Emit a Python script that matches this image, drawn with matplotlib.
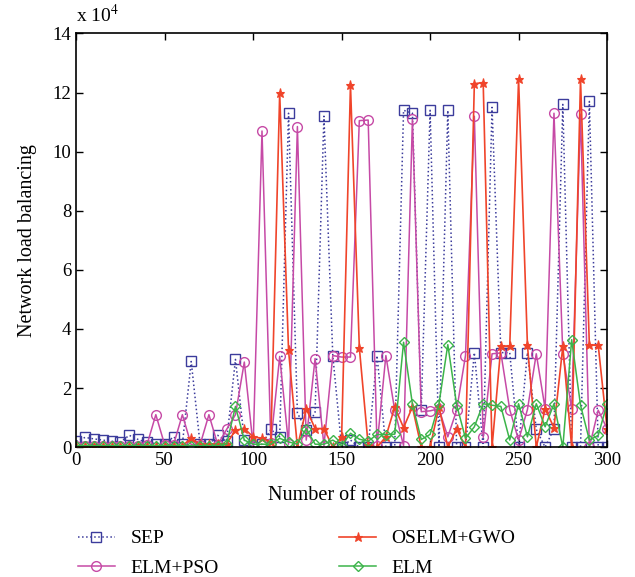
import numpy as np
import matplotlib
matplotlib.use("Agg")
from matplotlib import pyplot as plt

plt.rcParams['font.family'] = ['Liberation Serif', 'DejaVu Serif']
plt.rcParams['mathtext.fontset'] = 'stix'

# rounds sampled every 5, values in units of 10^4
rounds = np.arange(0, 301, 5)

sep = [0.2, 0.33, 0.28, 0.24, 0.2, 0.18, 0.4, 0.26, 0.16, 0.12,
       0.1, 0.35, 0.1, 2.9, 0.1, 0.1, 0.4, 0.2, 2.97, 0.24,
       0.0, 0.1, 0.6, 0.35, 11.3, 1.16, 0.57, 1.19, 11.2, 3.1,
       0.0, 0.24, 0.0, 0.0, 3.1, 0.0, 0.0, 11.4, 11.3, 1.27,
       11.4, 0.0, 11.4, 0.0, 0.0, 3.2, 0.0, 11.5, 3.2, 3.2,
       0.0, 3.2, 0.6, 0.0, 0.63, 11.6, 0.0, 0.0, 11.7, 0.0, 0.0]

elm_pso = [0.05, 0.05, 0.05, 0.05, 0.05, 0.05, 0.05, 0.05, 0.08, 1.1,
           0.08, 0.08, 1.1, 0.08, 0.08, 1.1, 0.08, 0.6, 1.1, 2.88,
           0.05, 10.7, 0.15, 3.07, 0.1, 10.85, 0.24, 3.0, 0.05, 3.1,
           3.05, 3.05, 11.05, 11.07, 0.05, 3.1, 1.25, 0.05, 11.1, 1.2,
           1.23, 1.3, 0.35, 1.25, 3.1, 11.2, 0.33, 3.16, 3.19, 1.27,
           0.24, 1.27, 3.16, 1.3, 11.3, 3.16, 1.3, 11.27, 0.0, 1.25, 0.63]

oselm_gwo = [0.05, 0.05, 0.05, 0.05, 0.05, 0.05, 0.05, 0.05, 0.05, 0.05,
             0.05, 0.05, 0.05, 0.3, 0.1, 0.1, 0.1, 0.12, 0.57, 0.63,
             0.35, 0.3, 0.18, 11.98, 3.28, 0.0, 1.3, 0.63, 0.63, 0.0,
             0.35, 12.26, 3.37, 0.07, 0.0, 0.35, 1.36, 0.66, 1.36, 0.0,
             0.0, 1.36, 0.0, 0.63, 0.0, 12.3, 12.34, 0.0, 3.41, 3.41,
             12.45, 3.45, 0.0, 1.3, 0.66, 3.41, 0.0, 12.45, 3.45, 3.45, 0.63]

elm = [0.05, 0.05, 0.05, 0.05, 0.05, 0.05, 0.05, 0.05, 0.05, 0.05,
       0.05, 0.05, 0.05, 0.05, 0.05, 0.05, 0.05, 0.1, 1.38, 0.24,
       0.1, 0.1, 0.1, 0.3, 0.18, 0.1, 0.63, 0.1, 0.1, 0.24,
       0.05, 0.47, 0.27, 0.2, 0.43, 0.42, 0.44, 3.55, 1.46, 0.26,
       0.43, 1.47, 3.47, 1.43, 0.3, 0.69, 1.47, 1.42, 1.38, 0.24,
       1.47, 0.35, 1.47, 0.69, 1.47, 0.0, 3.64, 1.42, 0.24, 0.4, 1.47]

fig = plt.figure(figsize=(6.35, 5.77), dpi=100)
ax = fig.add_axes([0.12, 0.225, 0.836, 0.717])

ax.plot(rounds, sep, linestyle=':', color='#3c3c9c', lw=1.1, marker='s',
        ms=6.5, mfc='none', mew=1.0, label='SEP')
ax.plot(rounds, elm_pso, '-', color='#c64aa6', lw=1.1, marker='o',
        ms=7, mfc='none', mew=1.0, label='ELM+PSO')
ax.plot(rounds, oselm_gwo, '-', color='#f0442a', lw=1.2, marker='*',
        ms=6.5, mew=0.8, label='OSELM+GWO')
ax.plot(rounds, elm, '-', color='#3cb44a', lw=1.1, marker='D',
        ms=5.5, mfc='none', mew=1.0, label='ELM')

ax.set_xlim(0, 300)
ax.set_ylim(0, 14)
ax.set_xticks(np.arange(0, 301, 50))
ax.set_yticks(np.arange(0, 15, 2))
ax.tick_params(direction='in', top=True, right=True, length=5,
               labelsize=13.5, width=1)
for s in ax.spines.values():
    s.set_linewidth(1.2)

ax.set_xlabel('Number of rounds', fontsize=14.5, labelpad=12)
ax.set_ylabel('Network load balancing', fontsize=14.5, labelpad=11)
fig.text(0.12, 0.962, r'x 10$^{4}$', fontsize=14, ha='left', va='baseline')

fig.legend(loc='upper left', bbox_to_anchor=(0.095, 0.112), ncol=2,
           frameon=False, fontsize=14, handlelength=1.9, handletextpad=0.8,
           columnspacing=6.2, labelspacing=0.6, numpoints=1)

fig.savefig('out.png', dpi=100)
